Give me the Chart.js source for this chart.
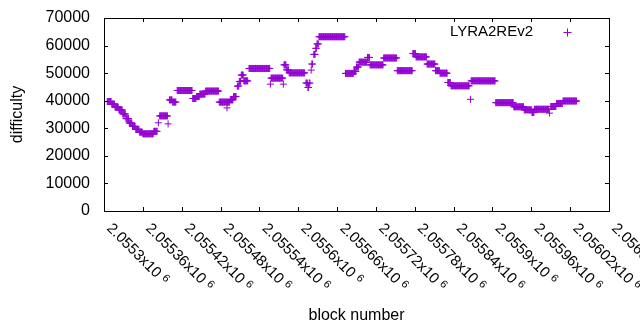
<!DOCTYPE html>
<html>
<head>
<meta charset="utf-8">
<script src="https://cdn.jsdelivr.net/npm/chart.js@4.4.0/dist/chart.umd.min.js"></script>
<style>
html, body { margin: 0; padding: 0; background: #fff; }
</style>
</head>
<body>
<canvas id="chart" width="640" height="330"></canvas>
<script>
const seriesName = 'LYRA2REv2';
const purple = '#9400d3';

// x tick values and their labels (mantissa, shown as "...x10^6")
const xTickValues = [2055300, 2055360, 2055420, 2055480, 2055540, 2055600, 2055660,
                     2055720, 2055780, 2055840, 2055900, 2055960, 2056020, 2056080];
const xTickLabels = ['2.0553', '2.05536', '2.05542', '2.05548', '2.05554', '2.0556', '2.05566',
                     '2.05572', '2.05578', '2.05584', '2.0559', '2.05596', '2.05602', '2.05608'];

// difficulty per block, as runs: first block, last block, difficulty
const runStart = [2055305, 2055312, 2055317, 2055323, 2055329, 2055334, 2055339, 2055344, 2055349, 2055355,
                  2055360, 2055377, 2055384, 2055386, 2055399, 2055401, 2055406, 2055413, 2055437, 2055443,
                  2055448, 2055457, 2055478, 2055490, 2055495, 2055500, 2055506, 2055509, 2055512, 2055516,
                  2055524, 2055557, 2055558, 2055577, 2055578, 2055582, 2055586, 2055612, 2055615, 2055617,
                  2055620, 2055621, 2055624, 2055627, 2055629, 2055632, 2055673, 2055686, 2055690, 2055694,
                  2055707, 2055711, 2055732, 2055753, 2055777, 2055782, 2055799, 2055812, 2055819, 2055831,
                  2055836, 2055866, 2055867, 2055905, 2055933, 2055949, 2055961, 2055965, 2055988, 2055990,
                  2055999, 2056009];
const runEnd   = [2055311, 2055316, 2055322, 2055328, 2055333, 2055338, 2055343, 2055348, 2055354, 2055359,
                  2055376, 2055382, 2055384, 2055398, 2055399, 2055405, 2055411, 2055436, 2055442, 2055447,
                  2055456, 2055477, 2055494, 2055490, 2055499, 2055504, 2055508, 2055511, 2055515, 2055522,
                  2055556, 2055557, 2055576, 2055577, 2055581, 2055585, 2055610, 2055614, 2055616, 2055618,
                  2055620, 2055622, 2055626, 2055628, 2055631, 2055672, 2055685, 2055689, 2055693, 2055706,
                  2055710, 2055731, 2055752, 2055776, 2055781, 2055798, 2055811, 2055818, 2055830, 2055835,
                  2055864, 2055866, 2055904, 2055932, 2055948, 2055960, 2055964, 2055987, 2055988, 2055998,
                  2056008, 2056030];
const runValue = [39700, 38800, 37700, 36700, 35200, 33500, 31900, 30700, 29600, 28600,
                  28000, 28900, 32000, 34500, 31600, 40300, 39500, 43700, 40800, 41500,
                  42400, 43500, 39500, 37400, 40300, 41500, 45300, 47000, 49300, 47200,
                  51700, 46000, 48200, 46000, 53000, 51200, 50100, 46400, 44800, 46400,
                  51100, 53300, 56800, 59000, 60600, 63200, 49900, 50600, 52200, 54000,
                  55700, 53000, 55500, 50900, 57100, 55900, 53300, 50900, 50000, 46600,
                  45400, 40500, 47200, 39300, 37800, 36700, 35700, 36900, 35500, 37900,
                  39000, 39900];

const points = [];
runStart.forEach((start, i) => {
    for (let b = start; b <= runEnd[i]; b++) {
        points.push({ x: b, y: runValue[i] });
    }
});

// box, mirrored inward ticks, rotated x labels and the key
const gnuplotFrame = {
    id: 'gnuplotFrame',
    afterDraw(chart) {
        const ctx = chart.ctx;
        const area = chart.chartArea;
        const xs = chart.scales.x;
        const ys = chart.scales.y;
        ctx.save();
        ctx.strokeStyle = '#000';
        ctx.lineWidth = 1;
        ctx.strokeRect(Math.round(area.left) + 0.5, Math.round(area.top) + 0.5,
                       Math.round(area.right - area.left), Math.round(area.bottom - area.top));
        ctx.beginPath();
        ys.ticks.forEach(t => {
            const py = Math.round(ys.getPixelForValue(t.value)) + 0.5;
            ctx.moveTo(area.left, py); ctx.lineTo(area.left + 4, py);
            ctx.moveTo(area.right, py); ctx.lineTo(area.right - 4, py);
        });
        xTickValues.forEach(v => {
            const px = Math.round(xs.getPixelForValue(v)) + 0.5;
            ctx.moveTo(px, area.bottom); ctx.lineTo(px, area.bottom - 4);
            ctx.moveTo(px, area.top); ctx.lineTo(px, area.top + 4);
        });
        ctx.stroke();

        ctx.fillStyle = '#000';
        xTickValues.forEach((v, i) => {
            const px = xs.getPixelForValue(v);
            ctx.save();
            ctx.translate(px + 5, area.bottom + 15);
            ctx.rotate(Math.PI / 4);
            ctx.textAlign = 'left';
            ctx.textBaseline = 'middle';
            ctx.font = '15px "Liberation Sans", Arial, sans-serif';
            const main = xTickLabels[i] + 'x10 ';
            ctx.fillText(main, 0, 0);
            const w = ctx.measureText(main).width;
            ctx.font = '11px "Liberation Sans", Arial, sans-serif';
            ctx.fillText('6', w, -3);
            ctx.restore();
        });

        // key
        ctx.font = '15px "Liberation Sans", Arial, sans-serif';
        ctx.textAlign = 'right';
        ctx.textBaseline = 'middle';
        ctx.fillText(seriesName, 533, 32);
        ctx.strokeStyle = purple;
        ctx.beginPath();
        ctx.moveTo(563.5, 32.5); ctx.lineTo(571.5, 32.5);
        ctx.moveTo(567.5, 28.5); ctx.lineTo(567.5, 36.5);
        ctx.stroke();
        ctx.restore();
    }
};

Chart.defaults.color = '#000';
Chart.defaults.font.family = '"Liberation Sans", Arial, sans-serif';

const ctx = document.getElementById('chart').getContext('2d');
const chart = new Chart(ctx, {
    type: 'scatter',
    data: {
        datasets: [{
            label: seriesName,
            data: points,
            pointStyle: 'cross',
            pointRadius: 3.5,
            pointHoverRadius: 3.5,
            borderColor: purple,
            backgroundColor: purple,
            borderWidth: 1
        }]
    },
    options: {
        responsive: false,
        animation: false,
        devicePixelRatio: 1,
        layout: { padding: { top: 18, right: 31, bottom: 0, left: 0 } },
        plugins: {
            legend: { display: false },
            tooltip: { enabled: false }
        },
        scales: {
            x: {
                type: 'linear',
                min: 2055300,
                max: 2056080,
                ticks: { display: false, stepSize: 60 },
                grid: { display: false, drawTicks: false },
                border: { display: false },
                title: {
                    display: true,
                    text: 'block number',
                    font: { size: 16 },
                    padding: { top: 0, bottom: 5 }
                },
                afterFit: scale => { scale.height = 119; }
            },
            y: {
                min: 0,
                max: 70000,
                ticks: {
                    stepSize: 10000,
                    padding: 14,
                    font: { size: 16 },
                    callback: value => String(value)
                },
                grid: { display: false, drawTicks: false },
                border: { display: false },
                title: {
                    display: true,
                    text: 'difficulty',
                    font: { size: 16 },
                    padding: { top: 8, bottom: 0 }
                },
                afterFit: scale => {
                    scale.width = 104;
                    scale.paddingTop = 0;
                    scale.paddingBottom = 0;
                }
            }
        }
    },
    plugins: [gnuplotFrame]
});
</script>
</body>
</html>
